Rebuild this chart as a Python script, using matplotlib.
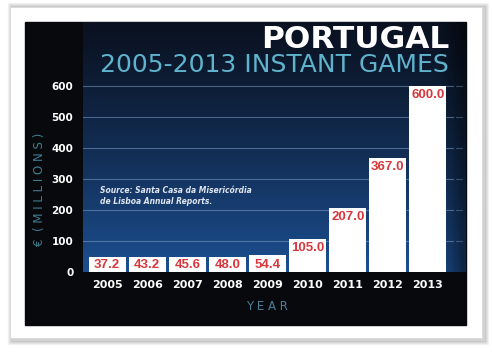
import numpy as np
import matplotlib.pyplot as plt
from matplotlib.patches import Rectangle

# ---- data -------------------------------------------------------------------
years = ["2005", "2006", "2007", "2008", "2009", "2010", "2011", "2012", "2013"]
sales = [37.2, 43.2, 45.6, 48.0, 54.4, 105.0, 207.0, 367.0, 600.0]
yticks = [0, 100, 200, 300, 400, 500, 600]

W, H = 492, 355
fig = plt.figure(figsize=(W / 100, H / 100), dpi=100)
fig.patch.set_facecolor("white")


def fx(px):
    return px / W


def fy(py):
    return 1 - py / H


# card shadow + white card + dark panel
for k, a in enumerate([0.05, 0.07, 0.09, 0.12]):
    d = 4 - k
    fig.patches.append(Rectangle((fx(10 - d + 2), fy(340 + d)), fx(472 + 2 * d), (333 + 2 * d) / H,
                                 transform=fig.transFigure, color="#707070", alpha=a, zorder=0))
fig.patches.append(Rectangle((fx(10), fy(338)), fx(472), 331 / H, transform=fig.transFigure,
                             facecolor="white", edgecolor="#d8d8d8", lw=0.6, zorder=1))
fig.patches.append(Rectangle((fx(25), fy(325)), fx(441), 303 / H, transform=fig.transFigure,
                             color="#08090c", zorder=2))

# ---- plot area ----------------------------------------------------------------
ax = fig.add_axes([fx(83), fy(272), fx(383), 250 / H])
ax.set_zorder(3)
x = np.arange(len(years))
ax.set_xlim(-0.6, 8.95)
ax.set_ylim(0, 806)

# background gradient: dark navy at the top, blue near the baseline
top = np.array([0.04, 0.07, 0.13])
bot = np.array([0.11, 0.31, 0.57])
t = np.linspace(0, 1, 200)[:, None, None]   # row 0 is drawn at the top
grad = top + (bot - top) * (t ** 1.2) * np.ones((1, 60, 1))
xs = np.linspace(0, 1, 60)
edge = np.clip((xs - 0.93) / 0.07, 0, 1)[None, :, None]
grad = grad * (1 - 0.5 * edge)
ax.imshow(grad, extent=(-0.6, 8.95, 0, 806), aspect="auto", zorder=0)

for v in yticks[1:]:
    ax.axhline(v, xmax=0.965, color="#7d9cc4", lw=0.8, alpha=0.55, zorder=1)
    ax.axhline(v, xmin=0.975, xmax=0.99, color="#7d9cc4", lw=0.8, alpha=0.4, zorder=1)

bar_w = 0.92
ax.bar(x, sales, width=bar_w, color="white", zorder=2)

# white label plates under the small values
box_h = 48
small = [i for i, v in enumerate(sales) if v < box_h + 30]
ax.bar(small, [box_h] * len(small), width=bar_w, color="white", zorder=2)

lab = dict(ha="center", va="center", fontsize=9.5, fontweight="bold", color="#d8383c",
           family="Liberation Sans", textcoords="offset points", zorder=3)
for xi, v in zip(x, sales):
    if xi in small:
        ax.annotate(f"{v:.1f}", (xi, box_h / 2), xytext=(0, 0), **lab)
    else:
        ax.annotate(f"{v:.1f}", (xi, v), xytext=(0, -6.5), **lab)

ax.set_xticks(x)
ax.set_xticklabels(years, color="white", fontsize=8, fontweight="bold")
ax.set_yticks(yticks)
ax.set_yticklabels([str(v) for v in yticks], color="white", fontsize=7.5, fontweight="bold")
ax.tick_params(axis="both", length=0)
ax.tick_params(axis="x", pad=6)
ax.tick_params(axis="y", pad=7)
for s in ax.spines.values():
    s.set_visible(False)

# ---- titles and notes -------------------------------------------------------
fig.text(fx(449), fy(39), "PORTUGAL", ha="right", va="center", color="white",
         fontsize=22.5, fontweight="bold", zorder=5)
fig.text(fx(449), fy(65), "2005-2013 INSTANT GAMES", ha="right", va="center",
         color="#5fb3cc", fontsize=18, zorder=5)
fig.text(fx(100), fy(196), "Source: Santa Casa da Misericórdia\nde Lisboa Annual Reports.",
         ha="left", va="center", color="#dfe6f0", fontsize=5.5, style="italic",
         fontweight="bold", linespacing=1.3, zorder=5)
fig.text(fx(39), fy(189), "€  ( M I L L I O N S )", rotation=90, ha="center", va="center",
         color="#3e7e90", fontsize=8.5, zorder=5)
fig.text(fx(267), fy(307), "Y E A R", ha="center", va="center", color="#4d7c98",
         fontsize=8.5, zorder=5)

fig.savefig("out.png", dpi=100)
